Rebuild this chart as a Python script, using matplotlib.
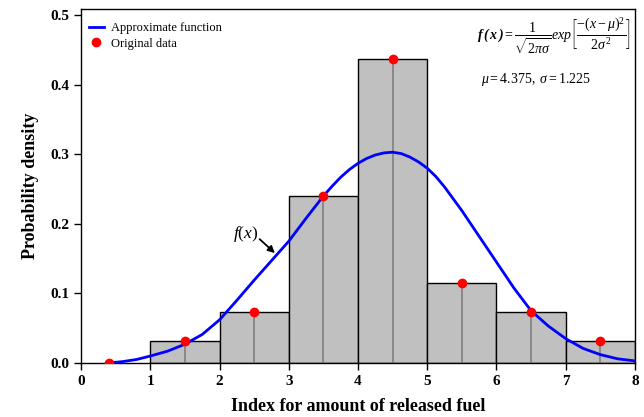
import matplotlib
matplotlib.use("Agg")
import matplotlib.pyplot as plt

# Data
bin_left = [1, 2, 3, 4, 5, 6, 7]
bin_height = [0.031, 0.073, 0.240, 0.437, 0.115, 0.073, 0.031]
pts_x = [0.4, 1.5, 2.5, 3.5, 4.5, 5.5, 6.5, 7.5]
pts_y = [0.0, 0.032, 0.074, 0.240, 0.437, 0.115, 0.073, 0.032]
curve_x = [0.4, 0.6, 0.8, 1.0, 1.25, 1.5, 1.75, 2.0, 2.25, 2.5, 2.75, 3.0, 3.25,
           3.5, 3.625, 3.75, 3.875, 4.0, 4.125, 4.25, 4.375, 4.5, 4.625, 4.75,
           4.875, 5.0, 5.125, 5.25, 5.5, 5.75, 6.0, 6.25,
           6.5, 6.75, 7.0, 7.25, 7.5, 7.75, 8.0]
curve_y = [0.0, 0.002, 0.005, 0.010, 0.017, 0.027, 0.041, 0.062, 0.090, 0.119,
           0.147, 0.175, 0.208, 0.240, 0.254, 0.267, 0.278, 0.287, 0.294, 0.299,
           0.302, 0.303, 0.301, 0.296, 0.289, 0.280, 0.268, 0.253, 0.219, 0.182,
           0.145, 0.108, 0.075, 0.053, 0.035, 0.021, 0.012, 0.006, 0.003]
x_ticks = [0, 1, 2, 3, 4, 5, 6, 7, 8]
y_ticks = [0.0, 0.1, 0.2, 0.3, 0.4, 0.5]

plt.rcParams['font.family'] = ['Liberation Serif', 'DejaVu Serif']
plt.rcParams['mathtext.fontset'] = 'custom'
plt.rcParams['mathtext.rm'] = 'Liberation Serif'
plt.rcParams['mathtext.it'] = 'Liberation Serif:italic'
plt.rcParams['mathtext.bf'] = 'Liberation Serif:bold:italic'

fig = plt.figure(figsize=(6.44, 4.17), dpi=100)
ax = fig.add_axes([0.1258, 0.1295, 0.986 - 0.1258, 0.978 - 0.1295])

ax.bar(bin_left, bin_height, width=1.0, align='edge', color='#c0c0c0',
       edgecolor='black', linewidth=1.0, zorder=1)
for l, h in zip(bin_left, bin_height):
    ax.plot([l + 0.5, l + 0.5], [0, h], color='#808080', lw=1.2, zorder=2)

ax.plot(curve_x, curve_y, color='#0000ff', lw=2, zorder=3, label='Approximate function')
ax.plot(pts_x, pts_y, 'o', color='#ff0000', ms=6, zorder=4, label='Original data')

ax.set_xlim(0, 8)
ax.set_ylim(0, 0.5086)
ax.set_xticks(x_ticks)
ax.set_yticks(y_ticks)
ax.set_xticklabels([str(t) for t in x_ticks])
ax.set_yticklabels([f"{t:.1f}" for t in y_ticks])
ax.tick_params(direction='out', length=5, width=1, labelsize=11)
for lab in ax.get_xticklabels() + ax.get_yticklabels():
    lab.set_fontweight('bold')
for s in ax.spines.values():
    s.set_linewidth(1.0)

ax.set_xlabel('Index for amount of released fuel', fontsize=13, fontweight='bold', labelpad=7)
ax.set_ylabel('Probability density', fontsize=13, fontweight='bold', labelpad=8)

leg = ax.legend(loc='upper left', frameon=False, fontsize=9, handlelength=1.2,
                handletextpad=0.6, borderaxespad=0.2, labelspacing=0.3,
                bbox_to_anchor=(0.0, 0.985))

ax.text(6.83, 0.470,
        r'$\mathbf{f\,(\,x\,)} = \dfrac{1}{\sqrt{2\pi\sigma}}\mathit{exp}\left[\dfrac{-(x-\mu)^2}{2\sigma^2}\right]$',
        fontsize=10, ha='center', va='center')
ax.text(5.78, 0.407, r'$\mu = 4.375,\ \sigma = 1.225$', fontsize=10, ha='left', va='center')

ax.text(2.38, 0.186, r'$f(x)$', fontsize=12.5, ha='center', va='center')
ax.annotate('', xy=(2.80, 0.158), xytext=(2.58, 0.178),
            arrowprops=dict(arrowstyle='-|>', color='black', lw=1.3, shrinkA=0, shrinkB=0,
                            mutation_scale=10))

fig.savefig('out.png', dpi=100)
